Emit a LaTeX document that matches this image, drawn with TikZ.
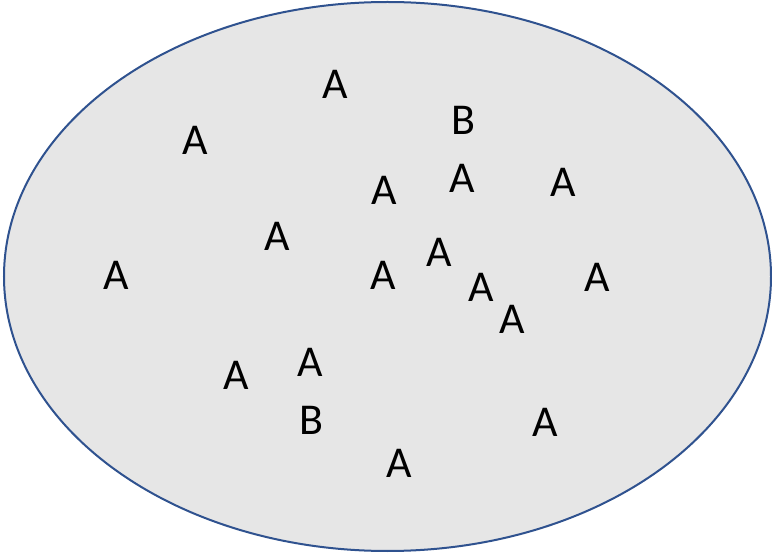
\documentclass[tikz,border=0pt]{standalone}
\usepackage{fontspec}
\setmainfont{Carlito}
\usetikzlibrary{shapes.geometric}
\definecolor{ringblue}{HTML}{2F528F}
\definecolor{setgray}{HTML}{E6E6E6}
\begin{document}
\begin{tikzpicture}[x=1pt,y=-1pt,
  elem/.style={inner sep=0pt,font=\fontsize{44}{44}\selectfont,text=black}]
\useasboundingbox (0,0) rectangle (772,553);
\node[draw=ringblue,line width=2pt,fill=setgray,ellipse,minimum width=767pt,minimum height=549pt,inner sep=0pt] (set) at (387.5,276.5) {};
\node[elem] (a1) at (335.5,84) {A};
\node[elem] (b1) at (463,120) {B};
\node[elem] (a2) at (195,140) {A};
\node[elem] (a3) at (384,190) {A};
\node[elem] (a4) at (462,178) {A};
\node[elem] (a5) at (563,182) {A};
\node[elem] (a6) at (277,236) {A};
\node[elem] (a7) at (116,275) {A};
\node[elem] (a8) at (383,275) {A};
\node[elem] (a9) at (439,252) {A};
\node[elem] (a10) at (481,287) {A};
\node[elem] (a11) at (597,277) {A};
\node[elem] (a12) at (512,319) {A};
\node[elem] (a13) at (236,375) {A};
\node[elem] (a14) at (310.7,362) {A};
\node[elem] (b2) at (311,420) {B};
\node[elem] (a15) at (545,422) {A};
\node[elem] (a16) at (399,463.5) {A};
\end{tikzpicture}
\end{document}
